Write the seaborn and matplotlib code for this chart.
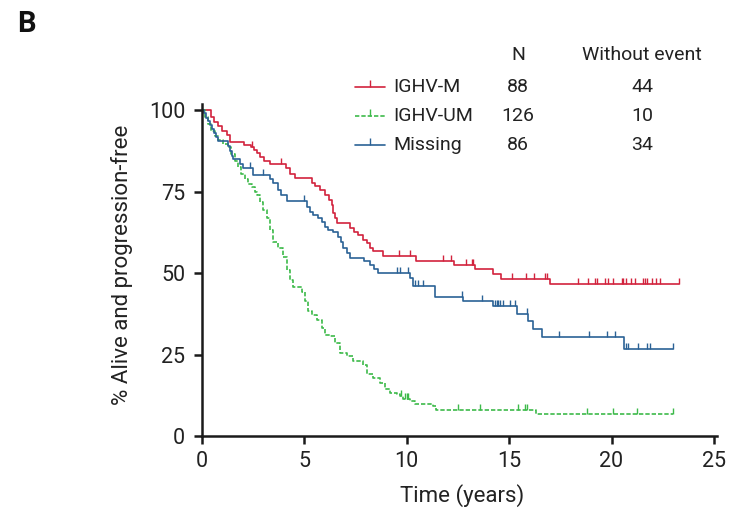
import numpy as np
import pandas as pd
import matplotlib
matplotlib.use("Agg")
import matplotlib.pyplot as plt
from matplotlib.lines import Line2D
import seaborn as sns

# Kaplan-Meier step curves: event times (years) and survival (%)
red_t = [0, 0.42, 0.6, 0.8, 1.0, 1.2, 1.35, 2.05, 2.4, 2.55, 2.7, 2.85, 3.03, 3.3,
         4.12, 4.3, 4.54, 5.35, 5.52, 5.76, 6.0, 6.22, 6.33, 6.41, 6.5, 6.61,
         7.23, 7.42, 7.6, 7.88, 8.07, 8.2, 8.37, 8.85, 10.45, 12.32, 13.33, 14.19,
         14.58, 16.99, 23.3]
red_s = [100, 97.9, 96.4, 95.0, 93.6, 92.2, 90.1, 89.4, 88.6, 87.6, 86.8, 85.7, 84.5, 83.5,
         82.1, 80.5, 79.0, 77.5, 76.8, 75.4, 73.9, 72.4, 70.9, 68.3, 66.8, 65.2,
         63.9, 62.7, 61.7, 60.2, 59.1, 57.6, 56.8, 55.3, 53.8, 52.5, 51.1, 49.6,
         48.1, 46.6, 46.6]

blue_t = [0, 0.1, 0.2, 0.3, 0.4, 0.5, 0.6, 0.7, 0.8, 1.27, 1.35, 1.45, 1.51, 1.86, 2.0, 2.5,
          3.3, 3.45, 3.7, 3.85, 4.13, 5.11, 5.27, 5.44, 5.68, 5.84, 6.0, 6.17, 6.41,
          6.66, 6.77, 6.9, 7.06, 7.23, 7.9, 8.2, 8.4, 8.61, 10.16, 10.29, 11.38, 12.76,
          14.23, 15.36, 15.4, 15.94, 16.18, 16.59, 20.61, 23.01]
blue_s = [100, 99, 97.7, 96.5, 95.3, 94.2, 93, 91.8, 90.4, 89.0, 87.5, 86.0, 85.1, 83.5, 82.1, 80.0,
          78.8, 77.5, 75.4, 73.9, 72.1, 70.3, 68.8, 67.8, 67.0, 65.7, 64.2, 63.2, 62.7,
          61.2, 59.6, 57.6, 56.1, 54.7, 53.8, 52.5, 51.3, 49.9, 48.4, 45.9, 42.6, 41.3,
          39.8, 38.7, 37.5, 35.4, 32.9, 30.3, 26.8, 26.8]

green_t = [0, 0.13, 0.29, 0.46, 0.62, 0.8, 1.03, 1.27, 1.43, 1.6,
           1.76, 1.92, 2.08, 2.25, 2.43, 2.57, 2.67, 2.83, 2.99, 3.16,
           3.32, 3.48, 3.73, 3.97, 4.13, 4.3, 4.46, 4.87, 5.03, 5.19,
           5.36, 5.6, 5.84, 6.0, 6.25, 6.49, 6.74, 7.07, 7.39, 7.88,
           8.04, 8.36, 8.69, 8.94, 9.18, 9.51, 9.67, 9.83, 10.16, 10.4,
           11.3, 11.43, 16.3, 23.0]
green_s = [100, 97.8, 95.7, 93.7, 92.1, 90.8, 89.6, 88.6, 86.5, 84.5,
           82.5, 80.4, 78.9, 77.4, 76.3, 74.8, 73.9, 71.9, 69.3, 66.8,
           63.2, 59.6, 57.6, 55.0, 51.0, 47.9, 45.6, 44.3, 41.3, 38.2,
           37.0, 35.7, 33.1, 31.1, 30.6, 28.5, 25.5, 24.5, 22.9, 21.9,
           18.9, 17.8, 16.3, 14.3, 13.2, 12.8, 12.2, 11.2, 10.7, 9.9,
           9.2, 8.1, 6.7, 6.7]

# censoring times (years)
red_cens = [2.45, 3.87, 9.64, 10.16, 11.75, 12.14, 12.89, 13.17, 13.25, 15.12, 15.82,
            16.21, 16.75, 16.85, 18.38, 18.83, 19.19, 19.27, 19.68, 19.84, 20.08,
            20.49, 20.57, 20.73, 20.93, 21.14, 21.55, 21.63, 21.74, 21.96, 22.17,
            22.36, 23.3]
blue_cens = [2.35, 3.0, 5.0, 9.51, 9.67, 10.07, 10.4, 10.56, 10.77, 12.7, 13.66, 14.31,
             14.39, 14.47, 14.55, 14.68, 15.04, 15.3, 15.89, 17.45, 18.91, 19.79,
             20.17, 20.7, 20.8, 21.3, 21.71, 21.88, 23.01]
green_cens = [9.7, 9.9, 10.02, 10.07, 12.52, 13.57, 15.44, 15.77, 15.85, 18.78, 20.08,
              21.22, 23.0]

groups = ["IGHV-M", "IGHV-UM", "Missing"]
n_patients = [88, 126, 86]
n_without_event = [44, 10, 34]
colors = {"IGHV-M": "#d2233d", "IGHV-UM": "#3dba4a", "Missing": "#2b6296"}

x_ticks = [0, 5, 10, 15, 20, 25]
y_ticks = [0, 25, 50, 75, 100]

curves = {"IGHV-M": (red_t, red_s, red_cens),
          "IGHV-UM": (green_t, green_s, green_cens),
          "Missing": (blue_t, blue_s, blue_cens)}

df = pd.concat([pd.DataFrame({"time": t, "surv": s, "group": g})
                for g, (t, s, _) in curves.items()], ignore_index=True)

sns.set_style("ticks")
plt.rcParams["font.family"] = ["Roboto", "DejaVu Sans"]

W, H = 730, 517
fig = plt.figure(figsize=(W / 100, H / 100), dpi=100)
ax = fig.add_axes([202 / W, 1 - 436 / H, 515 / W, 332.5 / H])

lw = 1.2
sns.lineplot(data=df, x="time", y="surv", hue="group", style="group",
             hue_order=groups, style_order=groups, palette=colors,
             dashes={"IGHV-M": "", "IGHV-UM": (2.6, 1.2), "Missing": ""},
             drawstyle="steps-post", estimator=None, sort=False,
             linewidth=lw, legend=False, ax=ax)

# censor tick marks sit on the step curve
for g, (t, s, c) in curves.items():
    c = np.asarray(c)
    idx = np.searchsorted(np.asarray(t), c, side="right") - 1
    ax.plot(c, np.asarray(s)[idx], ls="none", marker=2, markersize=4.5,
            markeredgewidth=1.0, color=colors[g])

ax.set_xlim(0, 25.15)
ax.set_ylim(0, 102)
ax.set_xticks(x_ticks)
ax.set_yticks(y_ticks)
ax.tick_params(axis="both", length=6, width=1.8, color="#1a1a1a",
               labelsize=15.5, labelcolor="#222222")
ax.tick_params(axis="x", pad=5)
ax.tick_params(axis="y", pad=6)
for side in ["left", "bottom"]:
    ax.spines[side].set_linewidth(1.8)
    ax.spines[side].set_color("#1a1a1a")
sns.despine(ax=ax)

label_font = ["Liberation Sans Narrow", "Roboto", "DejaVu Sans"]
ax.set_xlabel("Time (years)", fontsize=16, family=label_font, color="#222222")
ax.set_ylabel("% Alive and progression-free", fontsize=16, family=label_font,
              color="#222222")
ax.xaxis.set_label_coords((462 - 202) / 515, (436 - 484) / 332.5)
ax.yaxis.set_label_coords((133 - 202) / 515, (436 - 265) / 332.5)


def fx(px):
    return px / W


def fy(py):
    return 1 - py / H


# panel letter
fig.text(fx(17), fy(24), "B", fontsize=21, fontweight="bold", va="center",
         ha="left", color="#111111")

# legend table
txt = dict(fontsize=14, va="center", color="#222222")
fig.text(fx(518), fy(55), "N", ha="center", **txt)
fig.text(fx(642), fy(55), "Without event", ha="center", **txt)
row_y = [87, 116, 145]
for g, n, ne, yy in zip(groups, n_patients, n_without_event, row_y):
    ls = (0, (2.6, 1.2)) if g == "IGHV-UM" else "-"
    fig.add_artist(Line2D([fx(355), fx(385)], [fy(yy), fy(yy)], color=colors[g],
                          lw=lw, ls=ls, transform=fig.transFigure))
    fig.add_artist(Line2D([fx(370)], [fy(yy)], color=colors[g], ls="none",
                          marker=2, markersize=5, markeredgewidth=1.0,
                          transform=fig.transFigure))
    fig.text(fx(393), fy(yy), g, ha="left", **txt)
    fig.text(fx(518), fy(yy), str(n), ha="center", **txt)
    fig.text(fx(642), fy(yy), str(ne), ha="center", **txt)

fig.savefig("out.png", dpi=100, facecolor="white")
